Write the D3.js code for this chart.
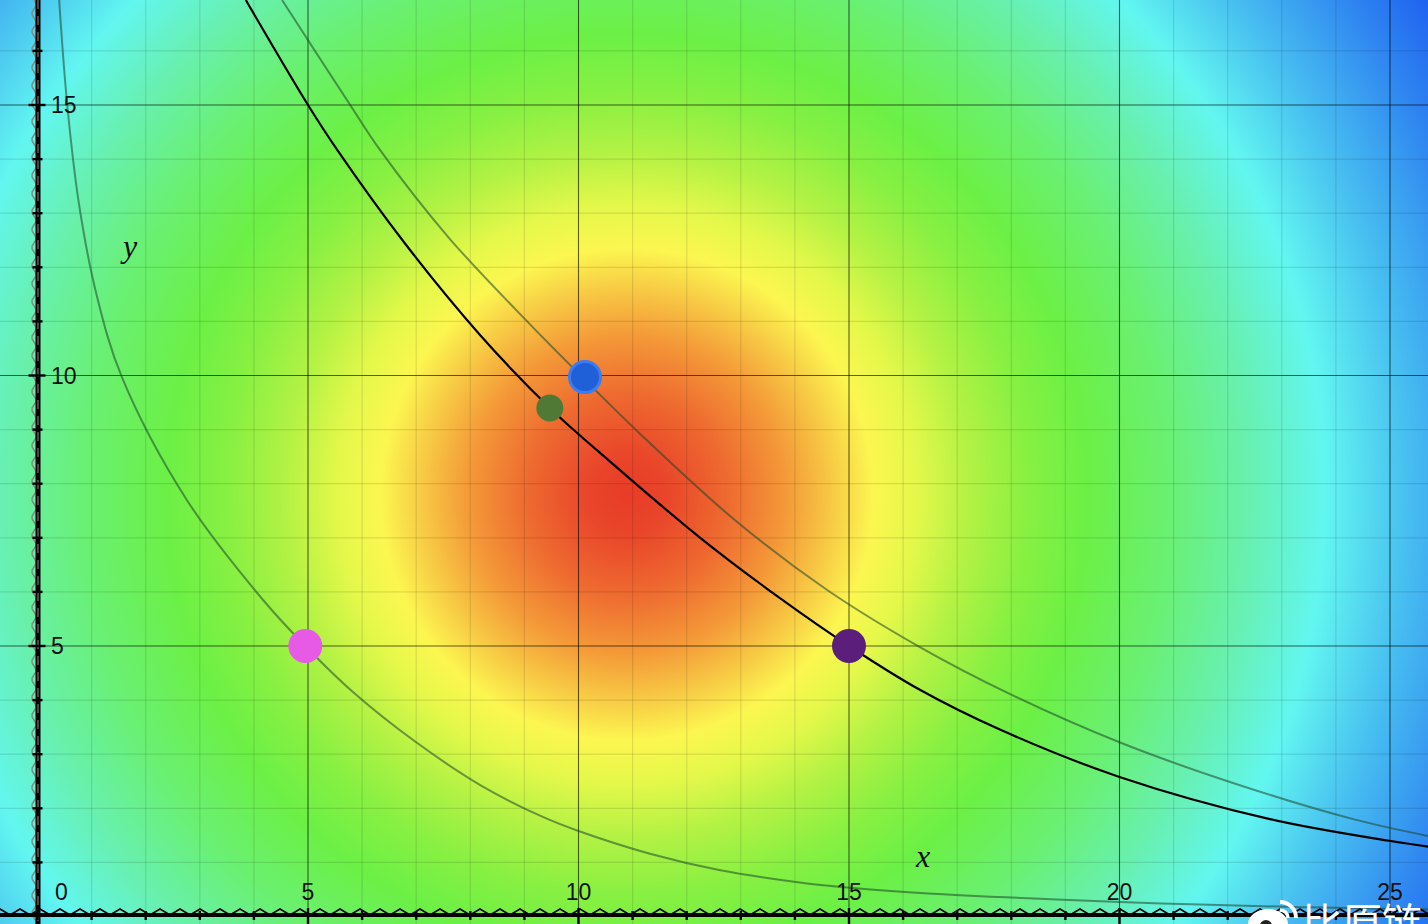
<!DOCTYPE html>
<html><head><meta charset="utf-8">
<script src="https://cdn.jsdelivr.net/npm/d3@7"></script>
<style>html,body{margin:0;padding:0;overflow:hidden;background:#fff}</style>
</head><body><svg id="chart" width="1428" height="924"></svg>
<script>
// ---------- data ----------
const xTickValues = [5, 10, 15, 20, 25];
const xTickLabels = ["5", "10", "15", "20", "25"];
const yTickValues = [5, 10, 15];
const yTickLabels = ["5", "10", "15"];
const minorXValues = [1,2,3,4,5,6,7,8,9,10,11,12,13,14,15,16,17,18,19,20,21,22,23,24,25];
const minorYValues = [1,2,3,4,5,6,7,8,9,10,11,12,13,14,15,16];

// heat field: centre and colour rings (distance from centre in data units)
const heatCenter = [10.9, 7.8];
const heatDist   = [0, 0.75, 1.85, 2.95, 3.9, 4.55, 5.35, 6.3, 7.4, 8.5, 10.0, 11.5, 12.9, 14.4, 16.1, 17.8];
const heatColors = ["#e83c28","#e9462a","#ee6a30","#f49a38","#f8d046","#fcf650","#e4f84a","#b4f244",
                    "#88f042","#6cf046","#6af072","#68f0b0","#62f6f0","#48c0f0","#3088f0","#1a56f0"];

// black curve (through the green and purple points)
const blackX = [3.85, 5.0, 5.54, 6.8, 8.18, 9.47, 10.34, 12.25, 13.73, 15.0, 16.31, 17.8, 20.0, 22.78, 24.98, 25.8];
const blackY = [16.94, 15.0, 14.17, 12.43, 10.75, 9.40, 8.62, 7.0, 5.88, 5.0, 4.19, 3.45, 2.58, 1.80, 1.40, 1.28];
// outer grey curve (through the blue point)
const outerX = [4.52, 5.78, 6.33, 7.6, 9.10, 10.12, 11.14, 12.9, 14.59, 16.31, 18.0, 20.0, 22.0, 24.32, 25.8];
const outerY = [16.94, 15.0, 14.17, 12.55, 10.95, 9.92, 8.92, 7.32, 6.04, 4.98, 4.10, 3.22, 2.50, 1.80, 1.47];
// inner grey curve (through the pink point)
const innerX = [0.40, 0.55, 0.77, 1.09, 1.56, 2.76, 4.17, 4.95, 5.83, 7.0, 8.2, 9.34, 10.0, 11.32, 12.6, 14.09, 15.02, 16.55, 17.79, 20.0, 21.49, 23.5, 25.8];
const innerY = [16.94, 15.0, 13.15, 11.5, 9.97, 7.70, 5.85, 5.0, 4.15, 3.22, 2.42, 1.84, 1.58, 1.16, 0.86, 0.63, 0.53, 0.42, 0.36, 0.27, 0.22, 0.17, 0.13];

// marked points
const pointNames = ["pink", "purple", "blue", "green"];
const pointX = [4.95, 15.0, 10.12, 9.47];
const pointY = [5.0, 5.0, 9.97, 9.40];

// ---------- styles ----------
const pointFill   = {pink:"#e65ae6", purple:"#5b1f7b", blue:"#1f5fd8", green:"#4f7934"};
const pointStroke = {pink:"none", purple:"none", blue:"#3a7cf2", green:"none"};
const pointR      = {pink:17, purple:17, blue:15.5, green:13.5};

// ---------- scales ----------
const W = 1428, H = 924;
const x = d3.scaleLinear().domain([0, 25]).range([37.5, 1390]);
const y = d3.scaleLinear().domain([0, 15]).range([916.5, 105]);

const svg = d3.select("#chart");
const defs = svg.append("defs");

// heat background
const maxD = heatDist[heatDist.length - 1];
const grad = defs.append("radialGradient").attr("id", "heat")
  .attr("gradientUnits", "userSpaceOnUse")
  .attr("cx", x(heatCenter[0])).attr("cy", y(heatCenter[1]))
  .attr("fx", x(heatCenter[0])).attr("fy", y(heatCenter[1]))
  .attr("r", x(heatCenter[0] + maxD) - x(heatCenter[0]));
grad.selectAll("stop").data(heatDist).join("stop")
  .attr("offset", d => d / maxD)
  .attr("stop-color", (d, i) => heatColors[i]);
svg.append("rect").attr("x", 0).attr("y", 0).attr("width", W).attr("height", H).attr("fill", "url(#heat)");

// grid
const g = svg.append("g");
g.selectAll(".vminor").data(minorXValues.filter(v => !xTickValues.includes(v))).join("line")
  .attr("x1", d => x(d)).attr("x2", d => x(d)).attr("y1", 0).attr("y2", H)
  .attr("stroke", "rgba(0,0,0,0.11)").attr("stroke-width", 1.2);
g.selectAll(".hminor").data(minorYValues.filter(v => !yTickValues.includes(v))).join("line")
  .attr("y1", d => y(d)).attr("y2", d => y(d)).attr("x1", 0).attr("x2", W)
  .attr("stroke", "rgba(0,0,0,0.11)").attr("stroke-width", 1.2);
g.selectAll(".vmajor").data(xTickValues).join("line")
  .attr("x1", d => x(d)).attr("x2", d => x(d)).attr("y1", 0).attr("y2", H)
  .attr("stroke", "rgba(0,0,0,0.62)").attr("stroke-width", 1.1);
g.selectAll(".hmajor").data(yTickValues).join("line")
  .attr("y1", d => y(d)).attr("y2", d => y(d)).attr("x1", 0).attr("x2", W)
  .attr("stroke", "rgba(0,0,0,0.62)").attr("stroke-width", 1.1);

// curves
const lineGen = d3.line().x(d => x(d[0])).y(d => y(d[1])).curve(d3.curveCatmullRom.alpha(0.5));
const zip = (a, b) => a.map((v, i) => [v, b[i]]);
svg.append("path").attr("d", lineGen(zip(innerX, innerY)))
  .attr("fill", "none").attr("stroke", "rgba(30,70,40,0.55)").attr("stroke-width", 2);
svg.append("path").attr("d", lineGen(zip(outerX, outerY)))
  .attr("fill", "none").attr("stroke", "rgba(30,70,40,0.55)").attr("stroke-width", 2);
svg.append("path").attr("d", lineGen(zip(blackX, blackY)))
  .attr("fill", "none").attr("stroke", "#000").attr("stroke-width", 2.2);

// points
svg.selectAll(".pt").data(pointNames).join("circle")
  .attr("cx", (d, i) => x(pointX[i])).attr("cy", (d, i) => y(pointY[i]))
  .attr("r", d => pointR[d]).attr("fill", d => pointFill[d])
  .attr("stroke", d => pointStroke[d]).attr("stroke-width", 3);

// ---------- axes ----------
const ax = svg.append("g");
const x0 = x(0), y0 = y(0) - 1.5;
// left axis: wavy grey line + doubled black line
const waveL = d3.range(0, H + 10, 3).map(t => [x0 - 3.5 + 2.2 * Math.sin(t / 18 * 2 * Math.PI), t]);
ax.append("path").attr("d", d3.line()(waveL)).attr("fill", "none").attr("stroke", "#7a8a80").attr("stroke-width", 1.4);
ax.append("rect").attr("x", x0 - 2).attr("y", 0).attr("width", 5).attr("height", H).attr("fill", "#000");
ax.append("line").attr("x1", x0 + 0.5).attr("x2", x0 + 0.5).attr("y1", 0).attr("y2", H)
  .attr("stroke", "rgba(255,255,255,0.55)").attr("stroke-width", 1).attr("stroke-dasharray", "9,7");
ax.selectAll(".ytk").data(minorYValues).join("line")
  .attr("x1", d => x0 - (yTickValues.includes(d) ? 9 : 5)).attr("x2", d => x0 + (yTickValues.includes(d) ? 8 : 5))
  .attr("y1", d => y(d)).attr("y2", d => y(d)).attr("stroke", "#000").attr("stroke-width", 2.4);

// bottom axis: zigzag + thick line
const zz = d3.range(-10, W + 20, 10).map((t, i) => [t, i % 2 ? y0 - 6 : y0]);
ax.append("path").attr("d", d3.line()(zz)).attr("fill", "none").attr("stroke", "#000").attr("stroke-width", 1.6);
ax.append("line").attr("x1", 0).attr("x2", W).attr("y1", y0).attr("y2", y0).attr("stroke", "#000").attr("stroke-width", 4);
ax.selectAll(".xtk").data([0].concat(minorXValues)).join("line")
  .attr("x1", d => x(d)).attr("x2", d => x(d))
  .attr("y1", d => y0 - (xTickValues.includes(d) ? 7 : 4)).attr("y2", d => y0 + (xTickValues.includes(d) ? 9 : 5))
  .attr("stroke", "#000").attr("stroke-width", 2.4);

// tick labels
const lab = svg.append("g").attr("font-family", "'Liberation Sans', Arial, Helvetica, sans-serif")
  .attr("font-size", 23).attr("fill", "#111");
lab.selectAll(".xl").data(xTickValues).join("text")
  .attr("x", d => x(d)).attr("y", 900).attr("text-anchor", "middle").text((d, i) => xTickLabels[i]);
lab.selectAll(".yl").data(yTickValues).join("text")
  .attr("x", 51).attr("y", d => y(d) + 8).attr("text-anchor", "start").text((d, i) => yTickLabels[i]);
lab.append("text").attr("x", 61.5).attr("y", 900).attr("text-anchor", "middle").text("0");

// axis names
const nm = svg.append("g").attr("font-family", "'Liberation Serif', 'Times New Roman', serif")
  .attr("font-style", "italic").attr("font-size", 32).attr("fill", "#111");
nm.append("text").attr("x", 923).attr("y", 867).attr("text-anchor", "middle").text("x");
nm.append("text").attr("x", 130).attr("y", 257).attr("text-anchor", "middle").text("y");

// watermark (cut off at bottom edge, as in the reference)
const wm = svg.append("g");
wm.append("ellipse").attr("cx", 1268).attr("cy", 924).attr("rx", 20).attr("ry", 15).attr("fill", "#fff");
wm.append("circle").attr("cx", 1266).attr("cy", 926).attr("r", 6).attr("fill", "#222");
wm.append("path").attr("d", "M1280,902 A16,16 0 0 1 1296,918").attr("fill", "none").attr("stroke", "#fff").attr("stroke-width", 4);
wm.append("path").attr("d", "M1280,910 A8,8 0 0 1 1288,918").attr("fill", "none").attr("stroke", "#fff").attr("stroke-width", 3.5);
wm.append("text").attr("x", 1302).attr("y", 937).attr("font-family", "'Noto Sans CJK SC', sans-serif")
  .attr("font-size", 40).attr("fill", "#fff").text("比原链");
</script></body></html>
